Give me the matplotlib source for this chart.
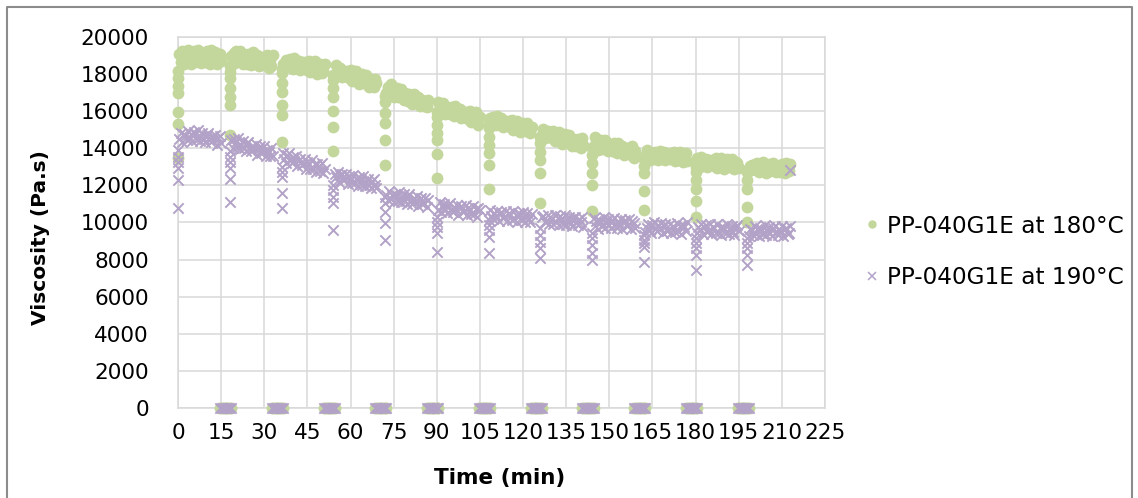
"""Viscosity of PP-040G1E over repeated cycles at 180 and 190 degC."""
import matplotlib.pyplot as plt
from matplotlib.lines import Line2D

# start of each measuring cycle (min)
cycle_start = [0, 18, 36, 54, 72, 90, 108, 126, 144, 162, 180, 198]

# time inside a cycle for the plateau readings and for the zero readings
plateau_min = [0.5, 1.0, 1.5, 2.0, 2.5, 3.0, 3.5, 4.0, 4.5, 5.0,
               5.5, 6.0, 6.5, 7.0, 7.5, 8.0, 8.5, 9.0, 9.5, 10.0,
               10.5, 11.0, 11.5, 12.0, 12.5, 13.0, 13.5, 14.0, 14.5, 15.0]
zero_min = [14.6, 15.3, 16.0, 16.6, 17.2, 17.9, 18.5]

# 180 degC: ramp-up readings at the start of each cycle (Pa.s)
ramp_180 = [
    [13470, 15330, 15950, 16970, 17360, 17810, 18150],
    [14700, 16330, 16780, 17230, 17770, 18130, 18450],
    [14350, 15790, 16330, 17050, 17500, 18040, 18300],
    [13870, 15130, 16030, 16780, 17230, 17680, 17950],
    [13100, 14450, 15350, 15880, 16510, 16800],
    [12380, 13670, 14450, 14810, 15250, 15700, 15950],
    [11780, 13100, 13760, 14180, 14620, 15080, 15300],
    [11030, 12650, 13370, 13810, 14270, 14600],
    [10600, 12020, 12650, 13190, 13640, 14000],
    [10700, 11700, 12680, 13050, 13400],
    [10310, 11170, 11790, 12290, 12740, 13000],
    [10040, 10850, 11790, 12290, 12740],
]

# 180 degC: plateau readings (Pa.s), one row per cycle
plateau_180 = [
    [19090, 18660, 19230, 18520, 18970, 18660, 19320, 18930, 18540, 19150,
     19270, 18670, 18870, 19310, 18790, 18590, 19110, 19030, 18670, 19220,
     18940, 18570, 19320, 18830, 18700, 19180, 18570, 19010, 19080, 18720],
    [18950, 18560, 19120, 19220, 18640, 18820, 19230, 18730, 18530, 19010,
     18930, 18570, 19100, 18820, 18470, 19180, 18710, 18590, 19040, 18450,
     18850, 18920, 18570, 18940, 18510, 19030, 18340, 18750, 18430, 19030],
    [18520, 18340, 18750, 18680, 18370, 18810, 18570, 18250, 18870, 18460,
     18340, 18730, 18220, 18570, 18630, 18310, 18630, 18240, 18700, 18090,
     18440, 18160, 18680, 18330, 17990, 18470, 18550, 18050, 18190, 18550],
    [17910, 18500, 18090, 17970, 18320, 17820, 18160, 18190, 17880, 18170,
     17800, 18220, 17620, 17950, 17670, 18160, 17810, 17470, 17930, 18000,
     17500, 17630, 17960, 17520, 17330, 17730, 17630, 17330, 17740, 17500],
    [16980, 17280, 17010, 17450, 17120, 16790, 17210, 17270, 16780, 16900,
     17200, 16780, 16600, 16960, 16860, 16560, 16950, 16710, 16410, 16950,
     16550, 16430, 16760, 16280, 16580, 16610, 16300, 16570, 16210, 16600],
    [16490, 16020, 16140, 16450, 16030, 15860, 16230, 16140, 15850, 16250,
     16010, 15720, 16260, 15880, 15770, 16100, 15630, 15940, 15970, 15680,
     15950, 15600, 16000, 15430, 15740, 15470, 15930, 15610, 15280, 15710],
    [15610, 15330, 15710, 15500, 15230, 15740, 15380, 15280, 15610, 15170,
     15450, 15490, 15230, 15490, 15160, 15530, 15010, 15310, 15060, 15490,
     15190, 14890, 15300, 15360, 14920, 15040, 15340, 14960, 14800, 15140],
    [14700, 15040, 14570, 14880, 14910, 14620, 14900, 14550, 14950, 14390,
     14700, 14430, 14890, 14570, 14250, 14680, 14750, 14280, 14400, 14710,
     14300, 14130, 14500, 14420, 14130, 14520, 14290, 14000, 14550, 14170],
    [14110, 14600, 14260, 13930, 14390, 14470, 13970, 14110, 14440, 14010,
     13830, 14230, 14140, 13840, 14260, 14030, 13720, 14310, 13910, 13790,
     14150, 13660, 14000, 14040, 13730, 14030, 13660, 14100, 13500, 13830],
    [13590, 13890, 13530, 13380, 13740, 13680, 13420, 13810, 13610, 13350,
     13880, 13530, 13450, 13780, 13360, 13650, 13710, 13450, 13730, 13410,
     13800, 13290, 13600, 13360, 13810, 13520, 13240, 13650, 13730, 13300],
    [13460, 13250, 12970, 13540, 13180, 13080, 13440, 12990, 13310, 13370,
     13100, 13390, 13060, 13480, 12930, 13260, 13020, 13490, 13190, 12890,
     13330, 13420, 12970, 13110, 13440, 13050, 12890, 13280, 13210, 12940],
    [12760, 13060, 13120, 12870, 13150, 12840, 13230, 12730, 13040, 12810,
     13240, 12960, 12680, 13100, 13180, 12760, 12900, 13210, 12850, 12710,
     13050, 13000, 12740, 13140, 12940, 12690, 13220, 12880, 12800, 13140],
]

# 190 degC: ramp-up readings at the start of each cycle (Pa.s)
ramp_190 = [
    [10760, 12290, 12920, 13280, 13550, 13900],
    [11120, 12340, 12920, 13280, 13550, 13850],
    [10760, 11570, 12470, 12740, 13000],
    [9590, 11030, 11390, 11750, 12020],
    [9060, 9960, 10580, 11030, 11390],
    [8420, 9420, 9770, 10040, 10310],
    [8370, 9230, 9590, 9860, 10130],
    [8070, 8610, 8960, 9330, 9690],
    [7980, 8370, 8790, 9150, 9420],
    [7850, 8690, 8880, 9060, 9350],
    [7440, 8250, 8610, 8880, 9150],
    [7710, 8250, 8610, 8880, 9150],
]

# 190 degC: plateau readings (Pa.s), one row per cycle
plateau_190 = [
    [14510, 14850, 14350, 14750, 14670, 14450, 14940, 14530, 14780, 14400,
     14880, 14750, 14490, 14960, 14410, 14630, 14830, 14490, 14330, 14730,
     14840, 14500, 14330, 14650, 14490, 14740, 14190, 14570, 14650, 14300],
    [14440, 14030, 14490, 14350, 14080, 14540, 13980, 14200, 14390, 14040,
     13870, 14260, 14360, 14010, 13840, 14150, 13980, 14230, 13660, 14030,
     14100, 13750, 13790, 14100, 13570, 13930, 13820, 13560, 14020, 13580],
    [13760, 13410, 13230, 13630, 13730, 13370, 13200, 13510, 13340, 13580,
     13020, 13390, 13450, 13100, 13140, 13440, 12910, 13280, 13160, 12900,
     13360, 12910, 13130, 12720, 13170, 13030, 12770, 13230, 12660, 12880],
    [12630, 12470, 12720, 12170, 12540, 12620, 12270, 12320, 12630, 12100,
     12480, 12370, 12120, 12580, 12150, 12370, 11970, 12430, 12300, 12040,
     12510, 11950, 12180, 12370, 12020, 11860, 12260, 12370, 12020, 11860],
    [11480, 11230, 11690, 11260, 11490, 11090, 11550, 11420, 11170, 11630,
     11080, 11310, 11510, 11160, 11000, 11410, 11510, 11170, 11010, 11330,
     11160, 11420, 10870, 11240, 11320, 10980, 11030, 11340, 10820, 11200],
    [10650, 11120, 10570, 10810, 11010, 10670, 10510, 10920, 11040, 10700,
     10540, 10860, 10710, 10970, 10420, 10800, 10880, 10550, 10600, 10920,
     10400, 10780, 10690, 10440, 10910, 10480, 10710, 10320, 10790, 10660],
    [10670, 10340, 10190, 10520, 10370, 10640, 10100, 10460, 10550, 10220,
     10280, 10610, 10100, 10490, 10400, 10120, 10600, 10180, 10420, 10030,
     10510, 10390, 10150, 10590, 10050, 10290, 10500, 10170, 10020, 10440],
    [10280, 10370, 10040, 10100, 10430, 9920, 10310, 10180, 9940, 10420,
     10000, 10240, 9850, 10330, 10210, 9920, 10400, 9860, 10100, 10310,
     9980, 9830, 10250, 10320, 9990, 9840, 10170, 10020, 10290, 9750],
    [10240, 9820, 10060, 9670, 10150, 10030, 9790, 10270, 9730, 9970,
     10180, 9850, 9700, 10120, 10240, 9880, 9730, 10060, 9910, 10180,
     9640, 10030, 10120, 9790, 9850, 10180, 9670, 10060, 9970, 9730],
    [9490, 9730, 9940, 9610, 9460, 9880, 10000, 9670, 9520, 9850,
     9700, 9970, 9430, 9820, 9910, 9550, 9610, 9940, 9430, 9820,
     9730, 9490, 9970, 9550, 9790, 9400, 9880, 9760, 9520, 10000],
    [9450, 9780, 9630, 9900, 9360, 9750, 9840, 9510, 9570, 9900,
     9390, 9780, 9690, 9450, 9930, 9450, 9690, 9300, 9780, 9660,
     9420, 9900, 9360, 9600, 9810, 9480, 9330, 9750, 9870, 9540],
    [9280, 9670, 9580, 9340, 9820, 9400, 9640, 9250, 9730, 9610,
     9370, 9850, 9310, 9550, 9760, 9430, 9280, 9700, 9820, 9490,
     9340, 9670, 9520, 9790, 9250, 9640, 9730, 9400, 9460, 9790],
]

# stray last reading of the 190 degC run
last_190_time = [212.8]
last_190_value = [12830]

label_180 = "PP-040G1E at 180°C"
label_190 = "PP-040G1E at 190°C"
color_180 = "#c3d69b"
color_190 = "#b3a2c7"


def build_series(ramps, plateaus):
    """Put ramp, plateau and zero readings of all cycles into one series."""
    times, values = [], []
    for i, t0 in enumerate(cycle_start):
        for v in ramps[i]:
            times.append(t0)
            values.append(v)
        for dt, v in zip(plateau_min, plateaus[i]):
            times.append(t0 + dt)
            values.append(v)
        if i < len(cycle_start) - 1:
            for dt in zero_min:
                times.append(t0 + dt)
                values.append(0)
    return times, values


t180, v180 = build_series(ramp_180, plateau_180)
t190, v190 = build_series(ramp_190, plateau_190)
t190 += last_190_time
v190 += last_190_value

W, H = 1138, 498
fig = plt.figure(figsize=(W / 100, H / 100), dpi=100)
ax = fig.add_axes([178 / W, 1 - 408 / H, (825 - 178) / W, (408 - 37) / H])

ax.scatter(t180, v180, s=72, color=color_180, linewidths=0, clip_on=False, zorder=3)
ax.scatter(t190, v190, s=55, marker="x", color=color_190, linewidths=1.4,
           clip_on=False, zorder=4)

ax.set_xlim(0, 225)
ax.set_ylim(0, 20000)
ax.set_xticks(range(0, 226, 15))
ax.set_yticks(range(0, 20001, 2000))
ax.grid(True, color="#d9d9d9", linewidth=1.1)
ax.set_axisbelow(True)
for sp in ax.spines.values():
    sp.set_color("#d9d9d9")
    sp.set_linewidth(1.1)
ax.tick_params(length=0, labelsize=15.5, colors="black")
ax.tick_params(axis="y", pad=21)
ax.tick_params(axis="x", pad=11)

fig.text(41 / W, 1 - 238 / H, "Viscosity (Pa.s)", rotation=90, ha="center",
         va="center", fontsize=14.5, fontweight="bold")
fig.text(500 / W, 1 - 478 / H, "Time (min)", ha="center", va="center",
         fontsize=15.5, fontweight="bold")

handles = [
    Line2D([], [], linestyle="", marker="o", markersize=6, color=color_180,
           markeredgewidth=0),
    Line2D([], [], linestyle="", marker="x", markersize=5.5, color=color_190,
           markeredgewidth=1.1),
]
fig.legend(handles, [label_180, label_190], loc="center left",
           bbox_to_anchor=(853 / W, 1 - 252 / H), frameon=False, fontsize=16.7,
           handlelength=0.6, handletextpad=0.35, labelspacing=1.25, borderpad=0)

# outer chart border
fig.add_artist(plt.Line2D([7 / W, 7 / W, 1132 / W, 1132 / W],
                          [0, 1 - 7 / H, 1 - 7 / H, 0],
                          transform=fig.transFigure, color="#8c8c8c",
                          linewidth=1.5))

fig.savefig("out.png", dpi=100)
